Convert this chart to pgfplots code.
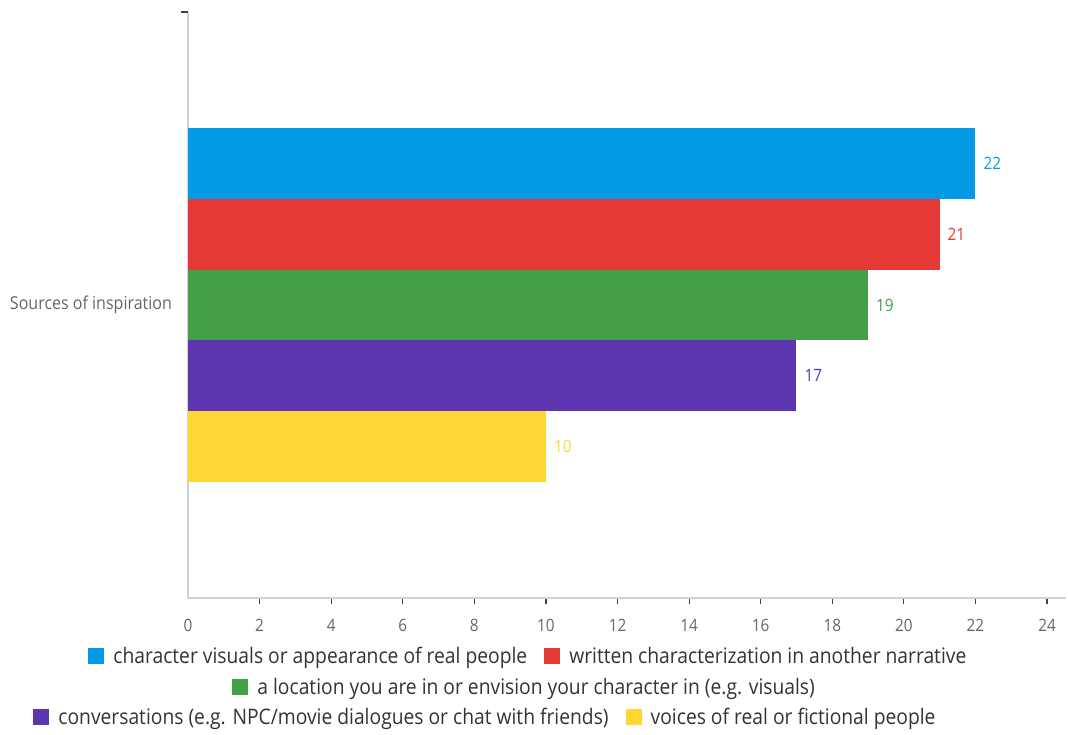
\documentclass[border=0pt]{standalone}
\usepackage{fontspec}
\setmainfont{Open Sans}[FakeStretch=0.9]
\usepackage{pgfplots}
\pgfplotsset{compat=1.18}
\definecolor{cblue}{HTML}{039BE5}
\definecolor{cred}{HTML}{E53935}
\definecolor{cgreen}{HTML}{43A047}
\definecolor{cpurple}{HTML}{5E35B1}
\definecolor{cyellow}{HTML}{FDD835}
\definecolor{tgray}{HTML}{666666}
\definecolor{lgray}{HTML}{333333}
\newcommand{\lsq}[1]{\textcolor{#1}{\rule{8pt}{8pt}}}
\begin{document}
\begin{tikzpicture}
\begin{axis}[
  name=ax, at={(0,0)}, anchor=south west,
  scale only axis, width=439pt, height=293pt,
  xmin=0, xmax=24.53, ymin=-4.15, ymax=4.15,
  xbar, bar width=1,
  axis x line*=bottom, axis y line*=left,
  axis line style={draw=black!18, line width=0.8pt},
  xtick={2,4,...,24}, extra x ticks={0},
  extra x tick style={x tick style={draw=none}},
  xtick align=outside, ytick align=outside,
  x tick style={draw=black!75, line width=0.6pt},
  major tick length=3pt,
  ytick={0}, yticklabels={Sources of inspiration},
  y tick style={draw=none},
  extra y ticks={4.15}, extra y tick labels={},
  extra y tick style={y tick style={draw=black!75, line width=1pt}, major tick length=3.5pt},
  /pgf/number format/assume math mode=true,
  tick label style={font=\fontsize{8.5}{10}\selectfont, text=tgray},
  xticklabel style={yshift=-4pt},
  yticklabel style={xshift=-1.5pt, font=\fontsize{8.9}{10}\selectfont},
  nodes near coords,
  nodes near coords style={font=\fontsize{8.5}{10}\selectfont, xshift=0.5pt},
]
\addplot[fill=cblue, draw=none, bar shift=0pt, nodes near coords style={text=cblue}] coordinates {(22,2)};
\addplot[fill=cred, draw=none, bar shift=0pt, nodes near coords style={text=cred}] coordinates {(21,1)};
\addplot[fill=cgreen, draw=none, bar shift=0pt, nodes near coords style={text=cgreen}] coordinates {(19,0)};
\addplot[fill=cpurple, draw=none, bar shift=0pt, nodes near coords style={text=cpurple}] coordinates {(17,-1)};
\addplot[fill=cyellow, draw=none, bar shift=0pt, nodes near coords style={text=cyellow}] coordinates {(10,-2)};
\end{axis}
% legend (pixel -> pt: 0.5pt per px, origin at axis south west (188,598))
\begin{scope}[every node/.style={anchor=west, inner sep=0pt, font=\fontsize{10.7}{12}\selectfont, text=lgray}]
\node at ({(88-188)*0.5pt}, {(598-658)*0.5pt}) {\lsq{cblue}\hspace{4.5pt}character visuals or appearance of real people\hspace{8.5pt}\lsq{cred}\hspace{4.5pt}written characterization in another narrative};
\node at ({(232-188)*0.5pt}, {(598-689)*0.5pt}) {\lsq{cgreen}\hspace{4.5pt}a location you are in or envision your character in (e.g. visuals)};
\node at ({(33-188)*0.5pt}, {(598-719)*0.5pt}) {\lsq{cpurple}\hspace{4.5pt}conversations (e.g. NPC/movie dialogues or chat with friends)\hspace{8.5pt}\lsq{cyellow}\hspace{4.5pt}voices of real or fictional people};
\end{scope}
\pgfresetboundingbox
\path[use as bounding box] (-94pt,-68pt) rectangle (440pt,299pt);
\end{tikzpicture}
\end{document}
